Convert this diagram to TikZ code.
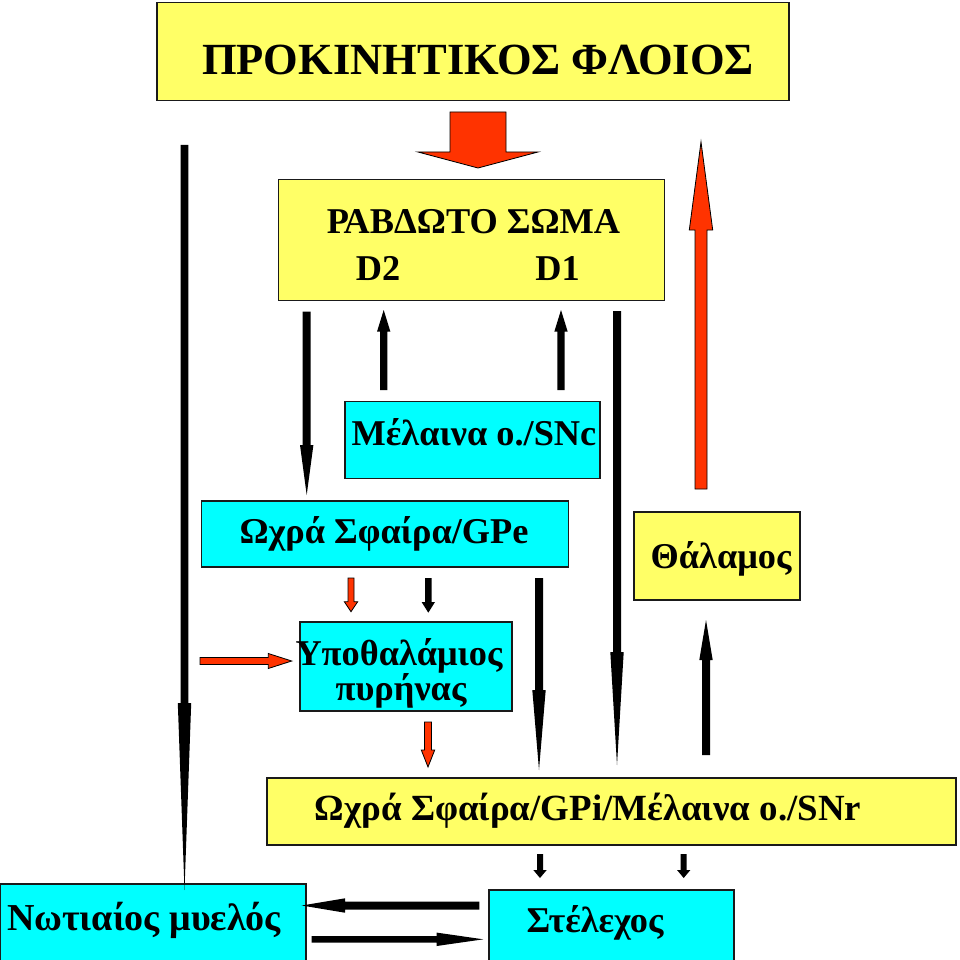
\documentclass[tikz,border=0pt]{standalone}
\usepackage{fontspec}
\setmainfont{Liberation Serif}
\definecolor{boxyellow}{HTML}{FFFF66}
\definecolor{boxcyan}{HTML}{00FFFF}
\definecolor{arrred}{HTML}{FF3300}
\definecolor{boxline}{HTML}{1A1A1A}
% vertical block arrow: x, tail y, head base y, tip y, half shaft, half head, style
\newcommand\vblock[7]{%
  \path[#7] ({#1-#5},#2) -- ({#1-#5},#3) -- ({#1-#6},#3) -- (#1,#4) -- ({#1+#6},#3)
    -- ({#1+#5},#3) -- ({#1+#5},#2) -- cycle;}
% horizontal block arrow: y, tail x, head base x, tip x, half shaft, half head, style
\newcommand\hblock[7]{%
  \path[#7] (#2,{#1-#5}) -- (#3,{#1-#5}) -- (#3,{#1-#6}) -- (#4,#1) -- (#3,{#1+#6})
    -- (#3,{#1+#5}) -- (#2,{#1+#5}) -- cycle;}
\tikzset{
  box/.style 2 args={draw=boxline,line width=1.1pt,minimum width=#1*0.03cm,
    minimum height=#2*0.03cm,inner sep=0pt},
  ybox/.style={fill=boxyellow},
  cbox/.style={fill=boxcyan},
  txt/.style={anchor=base,inner sep=0pt,font=\bfseries\fontsize{31}{29}\selectfont},
  blkarr/.style={fill=black},
  redarr/.style={fill=arrred,draw=black,line width=.7pt,line join=miter},
}
\begin{document}
\begin{tikzpicture}[x=.03cm,y=-.03cm]
  \path[use as bounding box] (0,0) rectangle (960,960);
  % boxes
  \node[box={632}{98},ybox] (cortex) at (473,51.5) {};
  \node[box={386}{121},ybox] (striatum) at (471.5,240) {};
  \node[box={255}{77},cbox] (snc) at (472.5,440) {};
  \node[box={367}{66},cbox] (gpe) at (385,534) {};
  \node[box={166}{88},ybox] (thal) at (717,556) {};
  \node[box={212}{89},cbox] (stn) at (406,666.5) {};
  \node[box={689}{67},ybox] (gpi) at (611.5,811.5) {};
  \node[box={306}{80},cbox] (spinal) at (153,924) {};
  \node[box={245}{74},cbox] (stem) at (611.5,927) {};
  % texts
  \node[txt,font=\bfseries\fontsize{38}{38}\selectfont] (cortexlbl) at (478,75) {ΠΡΟΚΙΝΗΤΙΚΟΣ ΦΛΟΙΟΣ};
  \node[txt] (striatumlbl) at (473.5,233) {ΡΑΒΔΩΤΟ ΣΩΜΑ};
  \node[txt] (dtwo) at (378,280) {D2};
  \node[txt] (done) at (557.5,280) {D1};
  \node[txt] (snclbl) at (474,445) {Μέλαινα ο./SNc};
  \node[txt] (gpelbl) at (384,543) {Ωχρά Σφαίρα/GPe};
  \node[txt] (thallbl) at (721,568) {Θάλαμος};
  \node[txt] (stnlbl) at (399,665) {Υποθαλάμιος};
  \node[txt] (stnlbltwo) at (401,700) {πυρήνας};
  \node[txt,font=\bfseries\fontsize{31.5}{31.5}\selectfont] (gpilbl) at (588,820) {Ωχρά Σφαίρα/GPi/Μέλαινα ο./SNr};
  \node[txt,font=\bfseries\fontsize{32.5}{32.5}\selectfont] (spinallbl) at (144,930) {Νωτιαίος μυελός};
  \node[txt] (stemlbl) at (595,932) {Στέλεχος};
  % arrows
  \vblock{478}{112}{152}{168}{28}{60}{redarr}
  \vblock{184.5}{145}{703}{890}{3.8}{6.7}{blkarr}
  \vblock{306.7}{311.7}{445}{495}{4}{6.7}{blkarr}
  \vblock{383.7}{390}{331.7}{310}{3.7}{6.7}{blkarr}
  \vblock{561}{390}{331.7}{310}{3.7}{6.7}{blkarr}
  \vblock{617}{311}{652}{765}{4}{6.7}{blkarr}
  \vblock{701}{489}{230}{142}{6}{11.7}{redarr}
  \vblock{351}{578}{601.7}{611.7}{3}{6.7}{redarr}
  \vblock{428.3}{578}{602}{612.7}{3.3}{6.7}{blkarr}
  \hblock{661}{200}{268.3}{291.7}{3.5}{7.5}{redarr}
  \vblock{539}{578}{690}{770}{4}{6.7}{blkarr}
  \vblock{428}{722}{750}{767}{3.5}{6.7}{redarr}
  \vblock{706}{755}{660}{620}{4}{6.7}{blkarr}
  \vblock{540}{854}{870}{878}{3}{6.7}{blkarr}
  \vblock{683.7}{854}{870}{878}{3}{6.7}{blkarr}
  \hblock{905.5}{479.3}{345}{301.7}{4}{7.2}{blkarr}
  \hblock{939.3}{311.7}{436.7}{483.3}{3.3}{6.7}{blkarr}
\end{tikzpicture}
\end{document}
